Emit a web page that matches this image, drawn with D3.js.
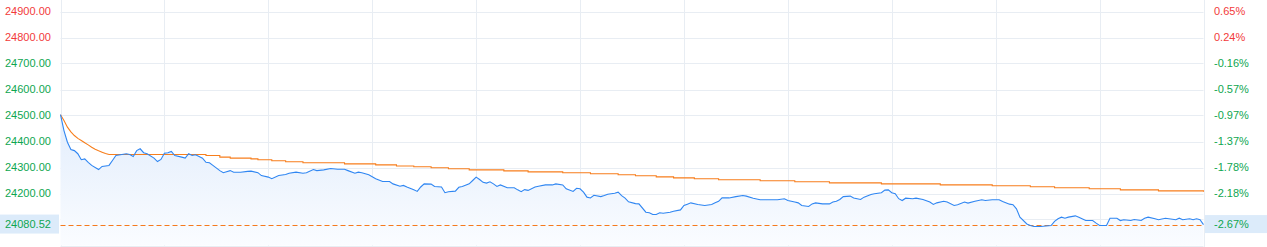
<!DOCTYPE html>
<html>
<head>
<meta charset="utf-8">
<script src="https://cdn.jsdelivr.net/npm/d3@7"></script>
<style>
  html, body { margin: 0; padding: 0; background: #fff; }
  svg { display: block; }
  text { font-family: "Liberation Sans", Arial, sans-serif; font-size: 11px; }
</style>
</head>
<body>
<svg id="chart" width="1267" height="247"></svg>
<script>
// ---- data ----
const preClose = 24740;
const lastPrice = 24080.52;
const gridValues = [24000, 24100, 24200, 24300, 24400, 24500, 24600, 24700, 24800, 24900];
const labelValues = [24900, 24800, 24700, 24600, 24500, 24400, 24300, 24200];
const timeGridMinutes = [0, 30, 60, 90, 120, 150, 180, 210, 240, 270, 300, 330];

// [minute since open, price]
const priceSeries = [[0,24503],[1,24442],[2,24397],[3,24369],[4,24365],[5,24353],[6,24330],[7,24333],[8,24320],[9,24308],[11,24292],[12,24304],[14,24308],[15,24327],[16,24346],[19,24353],[20,24350],[21,24342],[22,24365],[23,24372],[24,24357],[25,24353],[27,24336],[28,24323],[29,24331],[30,24355],[31,24357],[32,24362],[33,24346],[35,24340],[36,24336],[37,24353],[38,24346],[39,24349],[41,24336],[42,24320],[43,24318],[44,24308],[46,24288],[47,24280],[49,24288],[50,24282],[52,24282],[54,24285],[55,24286],[57,24280],[58,24269],[60,24263],[61,24257],[63,24269],[65,24273],[66,24278],[68,24282],[70,24278],[71,24280],[73,24292],[74,24288],[76,24291],[78,24296],[80,24293],[82,24293],[83,24288],[85,24278],[86,24282],[87,24280],[89,24272],[91,24257],[93,24246],[95,24246],[96,24237],[98,24228],[99,24231],[100,24225],[102,24214],[103,24208],[104,24225],[105,24237],[107,24236],[108,24227],[110,24225],[111,24203],[112,24207],[114,24209],[115,24224],[116,24227],[118,24237],[119,24250],[120,24263],[121,24254],[122,24243],[123,24240],[124,24245],[125,24237],[126,24227],[127,24233],[129,24222],[131,24222],[132,24214],[133,24207],[134,24215],[135,24212],[137,24225],[138,24228],[140,24233],[142,24233],[143,24237],[145,24233],[146,24218],[148,24208],[149,24220],[150,24218],[151,24205],[152,24186],[153,24183],[154,24193],[156,24188],[157,24192],[158,24197],[160,24201],[161,24205],[162,24192],[163,24182],[164,24168],[166,24161],[167,24160],[169,24128],[170,24126],[171,24119],[172,24119],[173,24126],[174,24124],[176,24128],[177,24132],[179,24137],[180,24154],[181,24159],[182,24164],[184,24158],[186,24154],[188,24158],[189,24164],[190,24170],[191,24183],[193,24183],[195,24188],[197,24192],[198,24190],[200,24182],[202,24176],[203,24176],[205,24176],[207,24176],[209,24180],[210,24173],[212,24167],[213,24164],[214,24154],[216,24150],[217,24160],[218,24164],[220,24160],[222,24160],[223,24167],[224,24170],[225,24177],[226,24188],[228,24190],[229,24183],[230,24180],[231,24177],[232,24186],[234,24196],[235,24199],[237,24203],[238,24213],[239,24214],[240,24203],[241,24199],[242,24180],[243,24173],[244,24182],[246,24180],[247,24182],[249,24177],[251,24167],[252,24158],[253,24164],[255,24170],[256,24167],[258,24154],[259,24157],[261,24167],[262,24163],[264,24170],[266,24176],[267,24173],[269,24176],[271,24176],[272,24169],[274,24159],[275,24157],[276,24141],[277,24109],[279,24083],[280,24077],[281,24073],[283,24073],[286,24077],[287,24093],[288,24103],[289,24109],[290,24105],[291,24109],[293,24114],[294,24109],[296,24096],[298,24096],[299,24086],[300,24077],[302,24077],[303,24105],[305,24105],[306,24096],[307,24099],[309,24096],[310,24100],[312,24096],[313,24105],[314,24109],[316,24103],[317,24099],[319,24105],[320,24103],[322,24099],[323,24105],[324,24099],[326,24103],[327,24099],[328,24103],[329,24099],[330,24080.52]];

// [minute since open, average price] — opening curve (smooth) and later plateaus (stepped)
const avgOpening = [[0,24503],[1,24481],[2,24455],[3,24437],[4,24423],[5,24412],[6,24404],[7,24395],[8,24387],[9,24378],[10,24370],[11,24364],[12,24359],[13,24354],[14,24350]];
const avgSteps = [[14,24350],[42,24346],[46,24340],[49,24336],[55,24333],[57,24330],[61,24326],[65,24322],[70,24318],[82,24314],[91,24310],[97,24306],[102,24303],[107,24299],[112,24295],[118,24291],[128,24287],[135,24283],[145,24280],[153,24276],[161,24272],[166,24268],[172,24264],[177,24260],[183,24257],[190,24253],[202,24249],[212,24245],[222,24241],[237,24237],[254,24233],[269,24230],[280,24226],[287,24222],[297,24218],[306,24214],[317,24210],[330,24207]];

// ---- drawing ----
const svg = d3.select("#chart");
const x = d3.scaleLinear().domain([0, 330]).range([60.5, 1203.5]);
const y = d3.scaleLinear().domain([24000, 24900]).range([245.5, 11.5]);
const red = "#f23a3a", green = "#0ea650";
const gridColor = "#e8edf3";
const locale = d3.formatLocale({decimal: ".", thousands: "", grouping: [3], currency: ["", ""], minus: "-"});

const defs = svg.append("defs");
const grad = defs.append("linearGradient").attr("id", "fillGrad")
  .attr("gradientUnits", "userSpaceOnUse")
  .attr("x1", 0).attr("x2", 0).attr("y1", y(24503)).attr("y2", y(24000));
grad.append("stop").attr("offset", 0).attr("stop-color", "#e2edfc");
grad.append("stop").attr("offset", 1).attr("stop-color", "#fafcff");

// grid
svg.append("g").selectAll("line").data(gridValues).join("line")
  .attr("x1", x(0)).attr("x2", x(330))
  .attr("y1", d => Math.round(y(d)) + 0.5).attr("y2", d => Math.round(y(d)) + 0.5)
  .attr("stroke", gridColor).attr("stroke-width", 1);
svg.append("g").selectAll("line").data(timeGridMinutes).join("line")
  .attr("x1", d => Math.round(x(d)) + 0.5).attr("x2", d => Math.round(x(d)) + 0.5)
  .attr("y1", 0).attr("y2", 247)
  .attr("stroke", gridColor).attr("stroke-width", 1);

// area
svg.append("path").datum(priceSeries)
  .attr("d", d3.area().x(d => x(d[0])).y0(y(24000)).y1(d => y(d[1])))
  .attr("fill", "url(#fillGrad)");

// last price dashed line
svg.append("line")
  .attr("x1", x(0)).attr("x2", x(330))
  .attr("y1", Math.round(y(lastPrice)) + 0.5).attr("y2", Math.round(y(lastPrice)) + 0.5)
  .attr("stroke", "#f57a1e").attr("stroke-width", 1).attr("stroke-dasharray", "5,3");

// avg line
svg.append("path").datum(avgOpening)
  .attr("d", d3.line().x(d => x(d[0])).y(d => y(d[1])))
  .attr("fill", "none").attr("stroke", "#f77e1c").attr("stroke-width", 1.1);
svg.append("path").datum(avgSteps)
  .attr("d", d3.line().x(d => x(d[0])).y(d => y(d[1])).curve(d3.curveStepAfter))
  .attr("fill", "none").attr("stroke", "#f77e1c").attr("stroke-width", 1.1);

// price line
svg.append("path").datum(priceSeries)
  .attr("d", d3.line().x(d => x(d[0])).y(d => y(d[1])))
  .attr("fill", "none").attr("stroke", "#2f86f2").attr("stroke-width", 1.1);

// labels
const fmtP = locale.format(".2f");
const pct = v => locale.format(".2f")((v - preClose) / preClose * 100) + "%";
svg.append("g").selectAll("text").data(labelValues).join("text")
  .attr("x", 5).attr("y", d => y(d)).attr("dy", "0.35em")
  .attr("fill", d => d >= preClose ? red : green)
  .text(d => fmtP(d));
svg.append("g").selectAll("text").data(labelValues).join("text")
  .attr("x", 1214).attr("y", d => y(d)).attr("dy", "0.35em")
  .attr("fill", d => d >= preClose ? red : green)
  .text(d => pct(d));

// highlighted last price labels
const ly = y(lastPrice);
svg.append("rect").attr("x", 0).attr("y", ly - 10).attr("width", 59).attr("height", 19).attr("fill", "#dcebfa");
svg.append("rect").attr("x", 1205).attr("y", ly - 9.5).attr("width", 62).attr("height", 18).attr("fill", "#dcebfa");
svg.append("text").attr("x", 5).attr("y", ly).attr("dy", "0.35em")
  .attr("fill", lastPrice >= preClose ? red : green).text(fmtP(lastPrice));
svg.append("text").attr("x", 1214).attr("y", ly).attr("dy", "0.35em")
  .attr("fill", lastPrice >= preClose ? red : green).text(pct(lastPrice));
</script>
</body>
</html>
